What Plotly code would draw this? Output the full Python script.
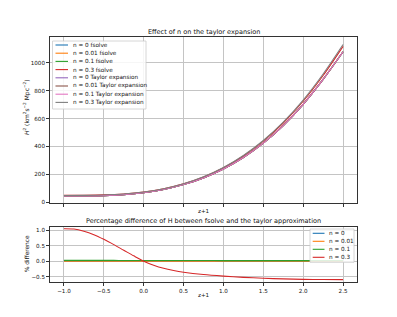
import plotly.graph_objects as go

# ---------------- data ----------------
z1 = [-1.0, -0.75, -0.5, -0.25, 0.0, 0.25, 0.5, 0.75, 1.0, 1.25, 1.5, 1.75, 2.0, 2.25, 2.5]

h2_fsolve_n0 = [45, 45.5, 48, 55, 69, 92, 127, 175, 239, 321, 424, 550, 702, 880, 1078]
h2_fsolve_n001 = [45, 45.5, 48, 55, 69, 92, 127, 175, 239, 321, 424, 550, 702, 880, 1078]
h2_fsolve_n01 = [45.1, 45.6, 48.1, 55.1, 69, 92, 127, 175, 239, 321, 424, 550, 702, 880, 1078]
h2_fsolve_n03 = [50, 50.5, 53, 60, 74, 97, 132, 181, 247, 332, 438, 568, 724, 908, 1117]
h2_taylor_n0 = [45, 45.5, 48, 55, 69, 92, 127, 175, 239, 321, 424, 550, 702, 880, 1078]
h2_taylor_n001 = [45, 45.5, 48, 55, 69, 92, 127, 175, 239, 321, 424, 550, 702, 880, 1078]
h2_taylor_n01 = [45, 45.5, 48, 55, 69, 92, 127, 175, 239, 321, 424, 550, 702, 880, 1078]
h2_taylor_n03 = [49, 49.5, 52.3, 59.6, 74, 97.5, 133, 182.6, 249.4, 335.6, 443, 574.7, 732.6, 918.9, 1130]

z1_diff = [-1.0, -0.875, -0.75, -0.625, -0.5, -0.375, -0.25, -0.125, 0.0, 0.125, 0.25,
           0.375, 0.5, 0.75, 1.0, 1.25, 1.5, 1.75, 2.0, 2.25, 2.5]
diff_n0 = [0.0, 0.0, 0.0, 0.0, 0.0, 0.0, 0.0, 0.0, 0.0, 0.0, 0.0,
           0.0, 0.0, 0.0, 0.0, 0.0, 0.0, 0.0, 0.0, 0.0, 0.0]
diff_n001 = [0.001, 0.001, 0.001, 0.001, 0.001, 0.001, 0.001, 0.001, 0.0, 0.0, 0.0,
             0.0, 0.0, 0.0, 0.0, 0.0, 0.0, 0.0, 0.0, 0.0, 0.0]
diff_n01 = [0.025, 0.025, 0.024, 0.024, 0.023, 0.023, 0.022, 0.022, 0.021, 0.021, 0.02,
            0.02, 0.02, 0.019, 0.018, 0.018, 0.017, 0.017, 0.016, 0.016, 0.015]
diff_n03 = [1.04, 1.03, 0.96, 0.85, 0.70, 0.53, 0.35, 0.17, 0.0, -0.13, -0.23,
            -0.30, -0.355, -0.43, -0.48, -0.52, -0.55, -0.57, -0.585, -0.59, -0.595]

top_labels = ["n = 0 fsolve", "n = 0.01 fsolve", "n = 0.1 fsolve", "n = 0.3 fsolve",
              "n = 0 Taylor expansion", "n = 0.01 Taylor expansion",
              "n = 0.1 Taylor expansion", "n = 0.3 Taylor expansion"]
bottom_labels = ["n = 0", "n = 0.01", "n = 0.1", "n = 0.3"]
colors = ["#1f77b4", "#ff7f0e", "#2ca02c", "#d62728",
          "#9467bd", "#8c564b", "#e377c2", "#7f7f7f"]

x_ticks = [-1.0, -0.5, 0.0, 0.5, 1.0, 1.5, 2.0, 2.5]

# ---------------- geometry helpers ----------------
# the page body has an 8px margin, so the figure starts at page (8, 8)
OFF = 8
W, H = 381, 301
PL, PR, PT, PB = 50, 357, 37, 282          # plot area in page pixels
ML, MR, MT, MB = PL - OFF, (OFF + W) - PR, PT - OFF, (OFF + H) - PB
PW, PH = PR - PL, PB - PT


def px(xp):
    return (xp - PL) / PW


def py(yp):
    return (PB - yp) / PH


FONT = "DejaVu Sans"
TXT = "#111111"

fig = go.Figure()

top_series = [h2_fsolve_n0, h2_fsolve_n001, h2_fsolve_n01, h2_fsolve_n03,
              h2_taylor_n0, h2_taylor_n001, h2_taylor_n01, h2_taylor_n03]
for name, ys, c in zip(top_labels, top_series, colors):
    fig.add_trace(go.Scatter(x=z1, y=ys, mode="lines", name=name,
                             line=dict(color=c, width=1.1, shape="spline", smoothing=0.8),
                             xaxis="x", yaxis="y", showlegend=False))

bottom_series = [diff_n0, diff_n001, diff_n01, diff_n03]
for name, ys, c in zip(bottom_labels, bottom_series, colors[:4]):
    fig.add_trace(go.Scatter(x=z1_diff, y=ys, mode="lines", name=name,
                             line=dict(color=c, width=1.1, shape="spline", smoothing=0.8),
                             xaxis="x2", yaxis="y2", showlegend=False))

axis_common = dict(showline=True, linecolor="#333333", linewidth=0.8, mirror=True,
                   ticks="outside", ticklen=3, tickwidth=0.8, tickcolor="#333333",
                   showgrid=True, gridcolor="#c4c4c4", gridwidth=0.8, zeroline=False,
                   tickfont=dict(family=FONT, size=5.6, color=TXT))

fig.update_layout(
    width=W, height=H,
    margin=dict(l=ML, r=MR, t=MT, b=MB, pad=0, autoexpand=False),
    paper_bgcolor="white", plot_bgcolor="white",
    xaxis=dict(domain=[0, 1], anchor="y", range=[-1.175, 2.675], tickvals=x_ticks,
               showticklabels=False, **axis_common),
    yaxis=dict(domain=[py(203.3), 1.0], anchor="x", range=[-7, 1184],
               tickvals=[0, 200, 400, 600, 800, 1000], **axis_common),
    xaxis2=dict(domain=[0, 1], anchor="y2", range=[-1.175, 2.675], tickvals=x_ticks,
                tickformat=".1f", **axis_common),
    yaxis2=dict(domain=[0, py(226.7)], anchor="x2", range=[-0.67, 1.106],
                tickvals=[-0.5, 0.0, 0.5, 1.0], tickformat=".1f", **axis_common),
)

ann = []
shapes = []


def text(x, y, s, size, angle=0, xanchor="center"):
    ann.append(dict(x=x, y=y, xref="paper", yref="paper", text=s, showarrow=False,
                    xanchor=xanchor, yanchor="middle", textangle=angle,
                    font=dict(family=FONT, size=size, color=TXT)))


text(0.5, py(32.3), "Effect of n on the taylor expansion", 6.5)
text(0.5, py(221), "Percentage difference of H between fsolve and the taylor approximation", 6.5)
text(0.5, py(211), "z+1", 5.6)
text(0.5, py(295), "z+1", 5.6)
text(px(26), py(107),
     "<i>H</i><sup>2</sup> (km<sup>2</sup>s<sup>\u22122</sup> Mpc<sup>\u22122</sup>)", 6.0, angle=-90)
text(px(27), py(254), "% difference", 5.8, angle=-90)

# top legend (drawn manually to match compact matplotlib legend)
shapes.append(dict(type="rect", xref="paper", yref="paper",
                   x0=px(52.5), x1=px(146), y0=py(109), y1=py(41),
                   line=dict(color="#cccccc", width=0.8), fillcolor="rgba(255,255,255,0.85)",
                   layer="above"))
for i, (lab, c) in enumerate(zip(top_labels, colors)):
    yy = 45 + 8.2 * i
    shapes.append(dict(type="line", xref="paper", yref="paper",
                       x0=px(55.5), x1=px(68), y0=py(yy), y1=py(yy),
                       line=dict(color=c, width=1.1), layer="above"))
    text(px(70.5), py(yy), lab, 5.7, xanchor="left")

# bottom legend
shapes.append(dict(type="rect", xref="paper", yref="paper",
                   x0=px(310), x1=px(354), y0=py(262.3), y1=py(229),
                   line=dict(color="#cccccc", width=0.8), fillcolor="rgba(255,255,255,0.85)",
                   layer="above"))
for i, (lab, c) in enumerate(zip(bottom_labels, colors[:4])):
    yy = 233.3 + 8.0 * i
    shapes.append(dict(type="line", xref="paper", yref="paper",
                       x0=px(312.7), x1=px(324.5), y0=py(yy), y1=py(yy),
                       line=dict(color=c, width=1.1), layer="above"))
    text(px(327), py(yy), lab, 5.7, xanchor="left")

fig.update_layout(annotations=ann, shapes=shapes)
fig.write_html("out.html")
